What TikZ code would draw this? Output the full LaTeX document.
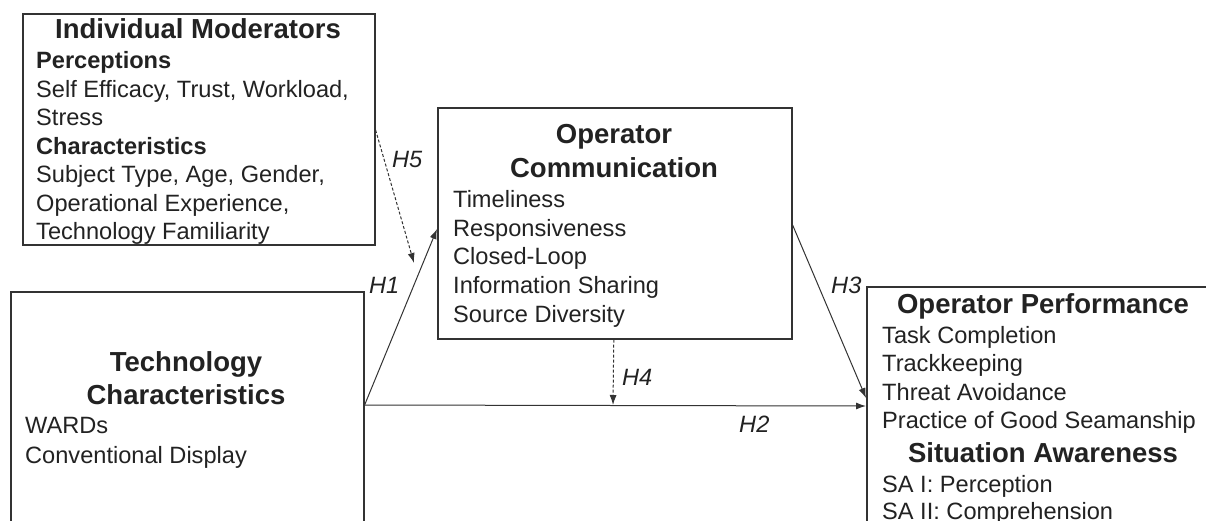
\documentclass[tikz,border=0pt]{standalone}
\usepackage{fontspec}
\setmainfont{Liberation Sans}
\usetikzlibrary{arrows.meta}
\definecolor{ink}{HTML}{222222}
\definecolor{frame}{HTML}{333333}
\tikzset{
  box/.style={draw=frame, line width=1.6pt, anchor=north west, inner sep=0pt},
  bodytxt/.style={anchor=base west, inner sep=0pt, text=ink, font=\fontsize{23.6}{28}\selectfont},
  subtxt/.style={anchor=base west, inner sep=0pt, text=ink, font=\fontsize{23.6}{28}\selectfont\bfseries},
  titletxt/.style={anchor=base, inner sep=0pt, text=ink, font=\fontsize{27.5}{33}\selectfont\bfseries},
  hlab/.style={anchor=base west, inner sep=0pt, text=ink, font=\fontsize{23.6}{28}\selectfont\itshape},
  arr/.style={draw=frame, line width=1pt, -{Latex[length=10pt,width=7pt]}},
  darr/.style={arr, dash pattern=on 3pt off 2pt}
}
\begin{document}
\begin{tikzpicture}[x=1pt,y=-1pt]
\useasboundingbox (0,0) rectangle (1206,520);
\clip (0,0) rectangle (1206,520);
\fill[white] (0,0) rectangle (1206,520);

% boxes
\node[box, minimum width=352pt, minimum height=231pt] (im) at (22,13) {};
\node[box, minimum width=354pt, minimum height=231pt] (oc) at (437,107) {};
\node[box, minimum width=353pt, minimum height=260pt] (tc) at (10,291) {};
\node[box, minimum width=352pt, minimum height=260pt] (op) at (866,286) {};

% Individual Moderators
\node[titletxt] (imt) at (198,38) {Individual Moderators};
\node[subtxt] (im1) at (36,68) {Perceptions};
\node[bodytxt] (im2) at (36,97) {Self Efficacy, Trust, Workload,};
\node[bodytxt] (im3) at (36,125) {Stress};
\node[subtxt] (im4) at (36,154) {Characteristics};
\node[bodytxt] (im5) at (36,182) {Subject Type, Age, Gender,};
\node[bodytxt] (im6) at (36,211) {Operational Experience,};
\node[bodytxt] (im7) at (36,239) {Technology Familiarity};

% Operator Communication
\node[titletxt] (oct1) at (614,143) {Operator};
\node[titletxt] (oct2) at (614,177) {Communication};
\node[bodytxt] (oc1) at (453,207) {Timeliness};
\node[bodytxt] (oc2) at (453,236) {Responsiveness};
\node[bodytxt] (oc3) at (453,264) {Closed-Loop};
\node[bodytxt] (oc4) at (453,293) {Information Sharing};
\node[bodytxt] (oc5) at (453,322) {Source Diversity};

% Technology Characteristics
\node[titletxt] (tct1) at (186,371) {Technology};
\node[titletxt] (tct2) at (186,404) {Characteristics};
\node[bodytxt] (tc1) at (25,433) {WARDs};
\node[bodytxt] (tc2) at (25,463) {Conventional Display};

% Operator Performance
\node[titletxt] (opt1) at (1043,313) {Operator Performance};
\node[bodytxt] (op1) at (882,343) {Task Completion};
\node[bodytxt] (op2) at (882,371) {Trackkeeping};
\node[bodytxt] (op3) at (882,400) {Threat Avoidance};
\node[bodytxt] (op4) at (882,428) {Practice of Good Seamanship};
\node[titletxt] (opt2) at (1043,462) {Situation Awareness};
\node[bodytxt] (op5) at (882,492) {SA I: Perception};
\node[bodytxt] (op6) at (882,519) {SA II: Comprehension};

% connectors
\coordinate (h1s) at ([yshift=-114pt]tc.north east);
\coordinate (h1e) at ([yshift=-122pt]oc.north west);
\coordinate (h2e) at ([yshift=-120pt]op.north west);
\coordinate (h3s) at ([yshift=-118pt]oc.north east);
\coordinate (h3e) at ([yshift=-112pt]op.north west);
\coordinate (h4s) at ([xshift=-1pt]oc.south);
\coordinate (h4e) at (613,405);
\coordinate (h5s) at ([yshift=-117pt]im.north east);
\coordinate (h5e) at (414,263);

\draw[arr] (h1s) -- (h1e);
\draw[arr] (h1s) -- (h2e);
\draw[arr] (h3s) -- (h3e);
\draw[darr] (h4s) -- (h4e);
\draw[darr] (h5s) -- (h5e);

% labels
\node[hlab] (l1) at (369,293) {H1};
\node[hlab] (l2) at (739,432) {H2};
\node[hlab] (l3) at (831,293) {H3};
\node[hlab] (l4) at (622,385) {H4};
\node[hlab] (l5) at (392,167) {H5};
\end{tikzpicture}
\end{document}
